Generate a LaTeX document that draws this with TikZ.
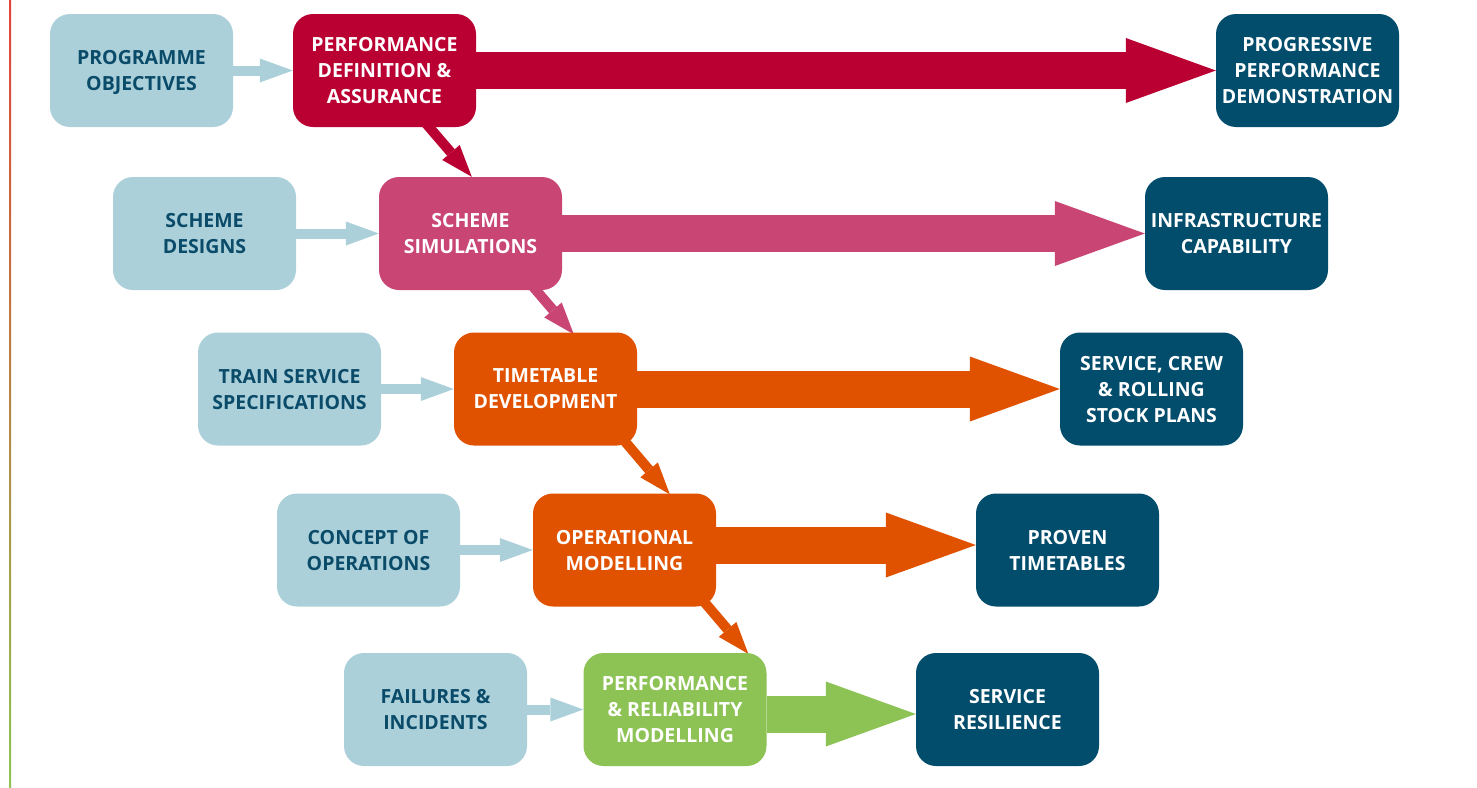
\documentclass[tikz,border=0pt]{standalone}
\usepackage{fontspec}
\setmainfont{Open Sans}
\usetikzlibrary{arrows.meta,calc}
\pgfdeclarelayer{bg}
\pgfsetlayers{bg,main}

\definecolor{inBlue}{RGB}{171,208,218}
\definecolor{inText}{RGB}{10,75,105}
\definecolor{outNavy}{RGB}{2,76,108}
\definecolor{crimson}{RGB}{186,0,51}
\definecolor{rose}{RGB}{200,69,116}
\definecolor{tangerine}{RGB}{224,82,0}
\definecolor{leaf}{RGB}{141,194,85}
\definecolor{lnRed}{RGB}{226,68,56}
\definecolor{lnMid}{RGB}{214,140,60}
\definecolor{lnGreen}{RGB}{141,196,85}

\begin{document}
\begin{tikzpicture}[x=1pt,y=-1pt,
  box/.style={rounded corners=20pt, minimum width=183pt, minimum height=113pt,
    inner sep=0pt, align=center, text depth=-3pt,
    font=\fontsize{19.5}{26}\selectfont\bfseries},
  inbox/.style={box, fill=inBlue, text=inText},
  outbox/.style={box, fill=outNavy, text=white},
  stagebox/.style={box, fill=#1, text=white},
  bigarrow/.style={draw=#1, line width=37pt,
    -{Triangle[length=90pt 0 0, width=65pt 0 0, line width=0pt]}},
  feedarrow/.style={draw=inBlue, line width=10pt,
    -{Triangle[length=33pt 0 0, width=24pt 0 0, line width=0pt]}},
  flowarrow/.style={draw=#1, line width=10pt,
    -{Triangle[length=32pt 0 0, width=23pt 0 0, line width=0pt]}}
]
\useasboundingbox (0,0) rectangle (1477,787);

% row 1
\node[inbox] (po) at (141.5,70.5) {PROGRAMME\\OBJECTIVES};
\node[stagebox=crimson] (pda) at (384.5,70.5) {PERFORMANCE\\DEFINITION \&\\ASSURANCE};
\node[outbox] (ppd) at (1307.5,70.5) {PROGRESSIVE\\PERFORMANCE\\DEMONSTRATION};
% row 2
\node[inbox] (sd) at (204.5,233.5) {SCHEME\\DESIGNS};
\node[stagebox=rose] (ss) at (470.5,233.5) {SCHEME\\SIMULATIONS};
\node[outbox] (ic) at (1236.5,233.5) {INFRASTRUCTURE\\CAPABILITY};
% row 3
\node[inbox] (tss) at (289.5,389) {TRAIN SERVICE\\SPECIFICATIONS};
\node[stagebox=tangerine] (td) at (545.5,389) {TIMETABLE\\DEVELOPMENT};
\node[outbox] (scr) at (1151.5,389) {SERVICE, CREW\\\& ROLLING\\STOCK PLANS};
% row 4
\node[inbox] (co) at (368.5,550) {CONCEPT OF\\OPERATIONS};
\node[stagebox=tangerine] (om) at (624.5,550) {OPERATIONAL\\MODELLING};
\node[outbox] (pt) at (1067.5,550) {PROVEN\\TIMETABLES};
% row 5
\node[inbox] (fi) at (435.5,709.5) {FAILURES \&\\INCIDENTS};
\node[stagebox=leaf] (prm) at (675,709.5) {PERFORMANCE\\\& RELIABILITY\\MODELLING};
\node[outbox] (sr) at (1007.5,709.5) {SERVICE\\RESILIENCE};

\begin{pgfonlayer}{bg}
  \fill[white] (0,0) rectangle (1477,787);
  % coloured rule along the left edge
  \shade[top color=lnRed, middle color=lnMid, bottom color=lnGreen] (9,0) rectangle (11,787);
  % inputs
  \draw[feedarrow] (po.east) -- (pda.west);
  \draw[feedarrow] (sd.east) -- (ss.west);
  \draw[feedarrow] (tss.east) -- (td.west);
  \draw[feedarrow] (co.east) -- (om.west);
  \draw[feedarrow] (fi.east) -- (prm.west);
  % outputs
  \draw[bigarrow=crimson] (pda.east) -- (ppd.west);
  \draw[bigarrow=rose] (ss.east) -- (ic.west);
  \draw[bigarrow=tangerine] (td.east) -- (scr.west);
  \draw[bigarrow=tangerine] ($(om.east)+(0,-5)$) -- ($(pt.west)+(0,-5)$);
  \draw[bigarrow=leaf] ($(prm.east)+(0,4.5)$) -- ($(sr.west)+(0,4.5)$);
  % stage to stage
  \draw[flowarrow=crimson] ($(pda.south west)+(124,-14.5)$) -- ($(ss.north west)+(93,0)$);
  \draw[flowarrow=rose] ($(ss.south west)+(144.4,-15)$) -- ($(td.north west)+(120,2)$);
  \draw[flowarrow=tangerine] ($(td.south west)+(162,-15)$) -- ($(om.north west)+(137,1)$);
  \draw[flowarrow=tangerine] ($(om.south west)+(162.7,-15)$) -- ($(prm.north west)+(165,1)$);
\end{pgfonlayer}
\end{tikzpicture}
\end{document}
